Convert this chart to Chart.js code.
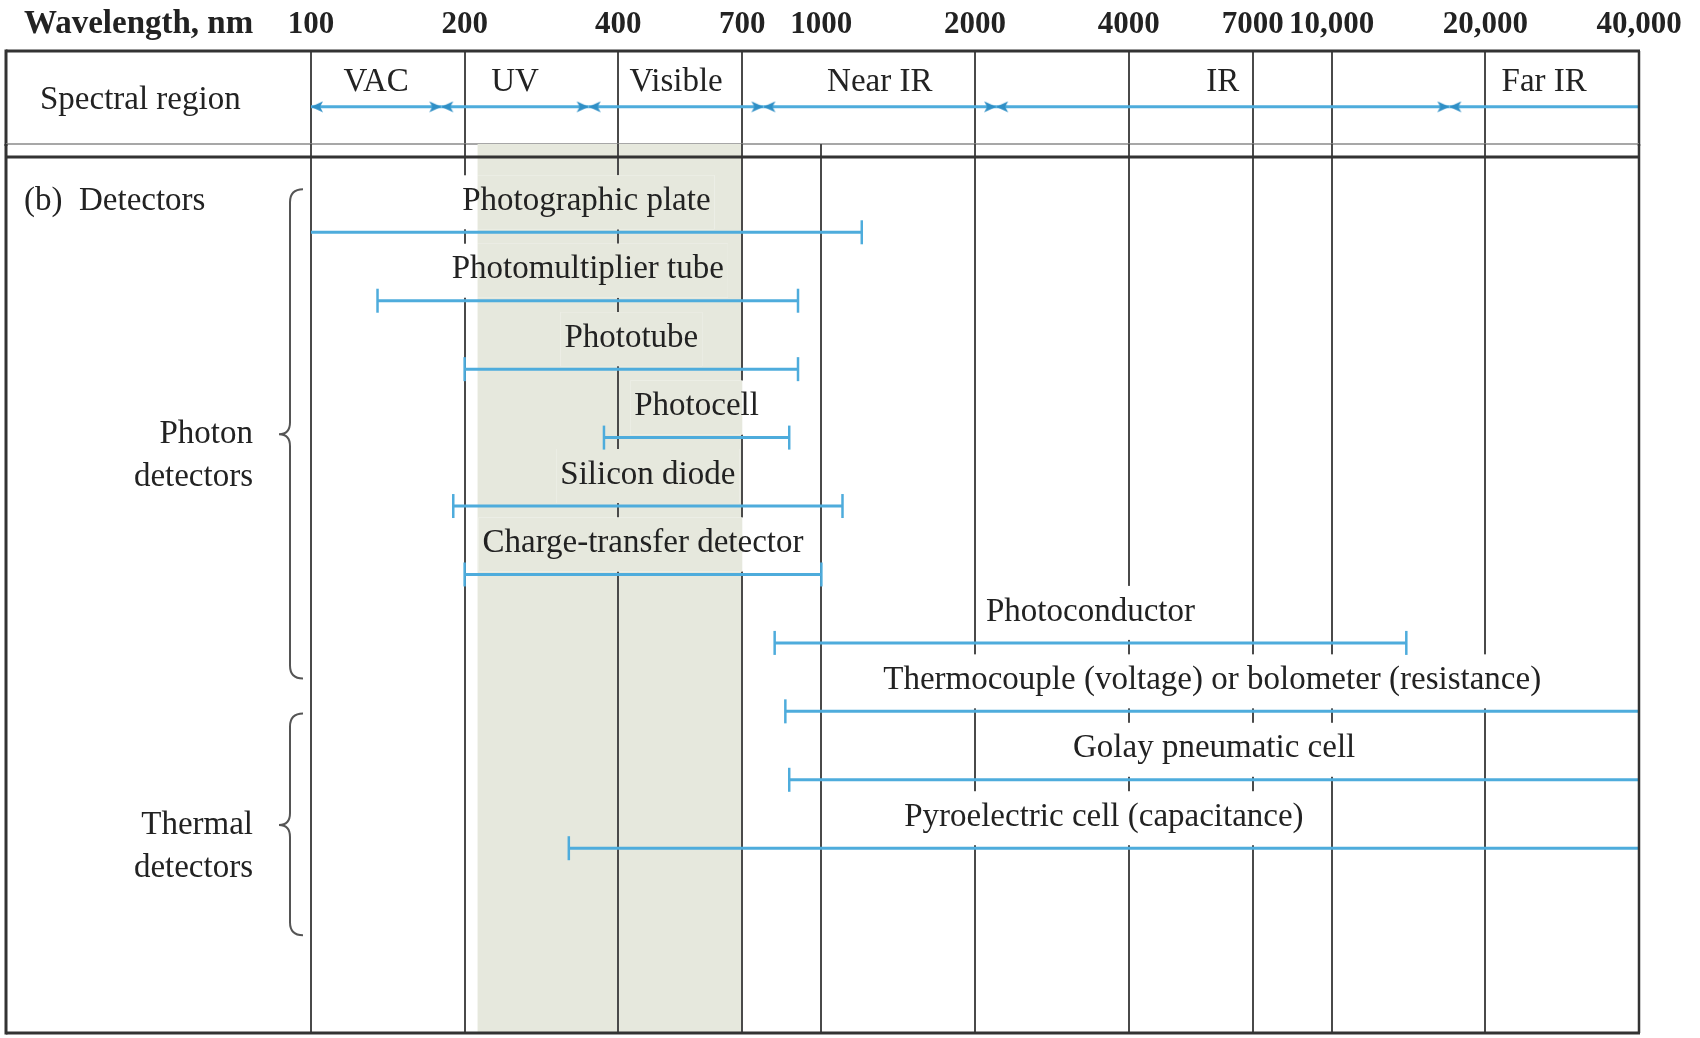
<!DOCTYPE html>
<html>
<head>
<meta charset="utf-8">
<script src="https://cdn.jsdelivr.net/npm/chart.js@4.4.1/dist/chart.umd.min.js"></script>
<style>
    html, body { margin: 0; padding: 0; background: #fff; }
    #wrap { position: relative; width: 1700px; height: 1038px; overflow: hidden; background: #fff; }
    #headerChart { position: absolute; left: 0; top: -8px; }
    #detectorChart { position: absolute; left: 0; top: 144px; }
</style>
</head>
<body>
<div id="wrap">
    <canvas id="headerChart" width="1700" height="154"></canvas>
    <canvas id="detectorChart" width="1700" height="894"></canvas>
</div>
<script>
// wavelength axis (nm)
const tickValues = [100, 200, 400, 700, 1000, 2000, 4000, 7000, 10000, 20000, 40000];
const tickLabels = ['100', '200', '400', '700', '1000', '2000', '4000', '7000', '10,000', '20,000', '40,000'];

// spectral regions, bounds in nm
const regionNames = ['VAC', 'UV', 'Visible', 'Near IR', 'IR', 'Far IR'];
const regionBounds = [100, 180, 350, 770, 2200, 17000, 40000];

// detectors and their useful ranges (nm)
const detectors = [
    'Photographic plate',
    'Photomultiplier tube',
    'Phototube',
    'Photocell',
    'Silicon diode',
    'Charge-transfer detector',
    'Photoconductor',
    'Thermocouple (voltage) or bolometer (resistance)',
    'Golay pneumatic cell',
    'Pyroelectric cell (capacitance)'
];
const rangeFrom = [100, 135, 200, 375, 190, 200, 810, 850, 865, 320];
const rangeTo = [1200, 900, 900, 865, 1100, 1000, 14000, 40000, 40000, 40000];

// shaded band
const visibleBand = [212, 700];

const BLUE = '#4eacdc';
const HEAD = '#2f8fc6';
const GRID = '#4a4a4a';
const INK = '#222';
const SHADE = '#e6e8dd';
const SERIF = '"Liberation Serif", "Times New Roman", serif';

function line(ctx, x0, y0, x1, y1) {
    ctx.beginPath();
    ctx.moveTo(x0, y0);
    ctx.lineTo(x1, y1);
    ctx.stroke();
}

// arrow head image with its tip in the centre, so ▸◂ meet on the boundary
function arrowHead(dir) {
    const c = document.createElement('canvas');
    c.width = 28;
    c.height = 12;
    const g = c.getContext('2d');
    g.fillStyle = HEAD;
    g.beginPath();
    if (dir > 0) {
        g.moveTo(14, 6); g.lineTo(2, 0.5); g.lineTo(5, 6); g.lineTo(2, 11.5);
    } else {
        g.moveTo(14, 6); g.lineTo(26, 0.5); g.lineTo(23, 6); g.lineTo(26, 11.5);
    }
    g.closePath();
    g.fill();
    return c;
}
const toLeft = arrowHead(-1);
const toRight = arrowHead(1);

const logX = (extra) => Object.assign({
    type: 'logarithmic',
    min: tickValues[0],
    max: tickValues[tickValues.length - 1],
    afterBuildTicks: scale => { scale.ticks = tickValues.map(v => ({ value: v })); },
    border: { display: false }
}, extra);

// ---- header: tick labels + spectral regions ----
const ARROW_Y = 0.4;
const lastRegion = regionNames.length - 1;

const regionSets = regionNames.map((name, i) => ({
    label: name,
    data: [{ x: regionBounds[i], y: ARROW_Y }, { x: regionBounds[i + 1], y: ARROW_Y }],
    borderColor: BLUE,
    borderWidth: 3,
    pointStyle: [toLeft, toRight],
    pointRadius: [6, i === lastRegion ? 0 : 6],
    clip: false
}));

const headerDecor = {
    id: 'headerDecor',
    afterDraw(chart) {
        const { ctx, chartArea: a, scales: { x, y } } = chart;
        ctx.save();
        ctx.fillStyle = INK;
        ctx.textBaseline = 'middle';
        ctx.textAlign = 'left';
        ctx.font = `bold 33px ${SERIF}`;
        ctx.fillText('Wavelength, nm', 24, a.top - 11 - 15.5);
        ctx.font = `33px ${SERIF}`;
        ctx.fillText('Spectral region', 40, y.getPixelForValue(0.47));
        ctx.textAlign = 'center';
        regionNames.forEach((n, i) => {
            const px = (x.getPixelForValue(regionBounds[i]) + x.getPixelForValue(regionBounds[i + 1])) / 2;
            ctx.fillText(n, px, y.getPixelForValue(0.66));
        });

        ctx.strokeStyle = '#333';
        ctx.lineWidth = 3;
        line(ctx, 6, a.top, a.right + 1, a.top);
        line(ctx, 6, a.top - 1.5, 6, chart.height);
        ctx.lineWidth = 2.5;
        line(ctx, a.right, a.top, a.right, chart.height);
        ctx.strokeStyle = '#8a8a8a';
        ctx.lineWidth = 1.5;
        line(ctx, 6, a.bottom, a.right, a.bottom);
        ctx.restore();
    }
};

new Chart(document.getElementById('headerChart'), {
    type: 'line',
    data: { datasets: regionSets },
    options: {
        responsive: false,
        animation: false,
        devicePixelRatio: 1,
        events: [],
        layout: { autoPadding: false, padding: { left: 311, right: 61, top: 6, bottom: 2 } },
        plugins: { legend: { display: false }, tooltip: { enabled: false } },
        scales: {
            x: logX({
                position: 'top',
                ticks: {
                    autoSkip: false,
                    maxRotation: 0,
                    padding: 11,
                    color: INK,
                    font: { family: SERIF, size: 31, weight: 'bold', lineHeight: 1 },
                    callback: (v, i) => tickLabels[i]
                },
                grid: {
                    drawTicks: false,
                    lineWidth: 2,
                    // the 1000 nm line only starts below the header row
                    color: c => (c.tick && c.tick.value === 1000) ? 'rgba(0,0,0,0)' : GRID
                }
            }),
            y: { type: 'linear', min: 0, max: 1, display: false }
        }
    },
    plugins: [headerDecor]
});

// ---- detectors ----
const detectorSets = detectors.map((name, i) => ({
    label: name,
    data: [{ x: rangeFrom[i], y: i }, { x: rangeTo[i], y: i }],
    borderColor: BLUE,
    borderWidth: 3,
    pointStyle: 'line',
    pointRotation: 90,
    pointBorderColor: BLUE,
    pointBorderWidth: 2.5,
    // no end cap where the range runs into the frame
    pointRadius: [rangeFrom[i] > tickValues[0] ? 12 : 0, rangeTo[i] < tickValues[tickValues.length - 1] ? 12 : 0],
    clip: false
}));

function drawBrace(ctx, x, yTop, yMid, yBot) {
    const r = 13;
    ctx.beginPath();
    ctx.moveTo(x + r, yTop);
    ctx.quadraticCurveTo(x, yTop, x, yTop + r);
    ctx.lineTo(x, yMid - 12);
    ctx.quadraticCurveTo(x, yMid, x - 11, yMid);
    ctx.quadraticCurveTo(x, yMid, x, yMid + 12);
    ctx.lineTo(x, yBot - r);
    ctx.quadraticCurveTo(x, yBot, x + r, yBot);
    ctx.stroke();
}

const detectorDecor = {
    id: 'detectorDecor',
    beforeDraw(chart) {
        const { ctx, chartArea: a, scales: { x } } = chart;
        const s0 = x.getPixelForValue(visibleBand[0]);
        const s1 = x.getPixelForValue(visibleBand[1]);
        ctx.save();
        ctx.fillStyle = SHADE;
        ctx.fillRect(s0, a.top, s1 - s0, a.bottom - a.top);
        ctx.restore();
    },
    beforeDatasetsDraw(chart) {
        const { ctx, scales: { x, y } } = chart;
        const s0 = x.getPixelForValue(visibleBand[0]);
        const s1 = x.getPixelForValue(visibleBand[1]);
        ctx.save();
        ctx.font = `33px ${SERIF}`;
        ctx.textAlign = 'center';
        ctx.textBaseline = 'middle';
        detectors.forEach((name, i) => {
            const cx = (x.getPixelForValue(rangeFrom[i]) + x.getPixelForValue(rangeTo[i])) / 2;
            const by = y.getPixelForValue(i);
            const w = ctx.measureText(name).width + 8;
            const top = by - 57, h = 54;
            // label plate hides the grid, but keeps the shaded band
            ctx.fillStyle = '#fff';
            ctx.fillRect(cx - w / 2, top, w, h);
            const l = Math.max(cx - w / 2, s0), r = Math.min(cx + w / 2, s1);
            if (r > l) {
                ctx.fillStyle = SHADE;
                ctx.fillRect(l, top, r - l, h);
            }
            ctx.fillStyle = INK;
            ctx.fillText(name, cx, by - 31);
        });
        ctx.restore();
    },
    afterDraw(chart) {
        const { ctx, chartArea: a, scales: { y } } = chart;
        ctx.save();
        ctx.strokeStyle = '#333';
        ctx.lineWidth = 3;
        line(ctx, 6, 13, a.right + 1, 13);
        line(ctx, 6, 0, 6, a.bottom + 1.5);
        line(ctx, 6, a.bottom, a.right + 1, a.bottom);
        ctx.lineWidth = 2.5;
        line(ctx, a.right, 0, a.right, a.bottom);

        ctx.fillStyle = INK;
        ctx.font = `33px ${SERIF}`;
        ctx.textBaseline = 'middle';
        ctx.textAlign = 'left';
        ctx.fillText('(b)  Detectors', 24, y.getPixelForValue(-0.45));

        ctx.textAlign = 'right';
        const groups = [
            { lines: ['Photon', 'detectors'], from: -0.63, mid: 2.95, to: 6.52 },
            { lines: ['Thermal', 'detectors'], from: 7.03, mid: 8.66, to: 10.27 }
        ];
        ctx.strokeStyle = '#555';
        ctx.lineWidth = 2;
        groups.forEach(g => {
            const ym = y.getPixelForValue(g.mid);
            ctx.fillText(g.lines[0], 253, ym);
            ctx.fillText(g.lines[1], 253, ym + 43);
            drawBrace(ctx, 290, y.getPixelForValue(g.from), ym, y.getPixelForValue(g.to));
        });
        ctx.restore();
    }
};

new Chart(document.getElementById('detectorChart'), {
    type: 'line',
    data: { datasets: detectorSets },
    options: {
        responsive: false,
        animation: false,
        devicePixelRatio: 1,
        events: [],
        layout: { autoPadding: false, padding: { left: 311, right: 61, top: 0, bottom: 5 } },
        plugins: { legend: { display: false }, tooltip: { enabled: false } },
        scales: {
            x: logX({
                position: 'bottom',
                ticks: { display: false },
                grid: { drawTicks: false, lineWidth: 2, color: GRID }
            }),
            y: { type: 'linear', reverse: true, min: -1.29, max: 11.7, display: false }
        }
    },
    plugins: [detectorDecor]
});
</script>
</body>
</html>
